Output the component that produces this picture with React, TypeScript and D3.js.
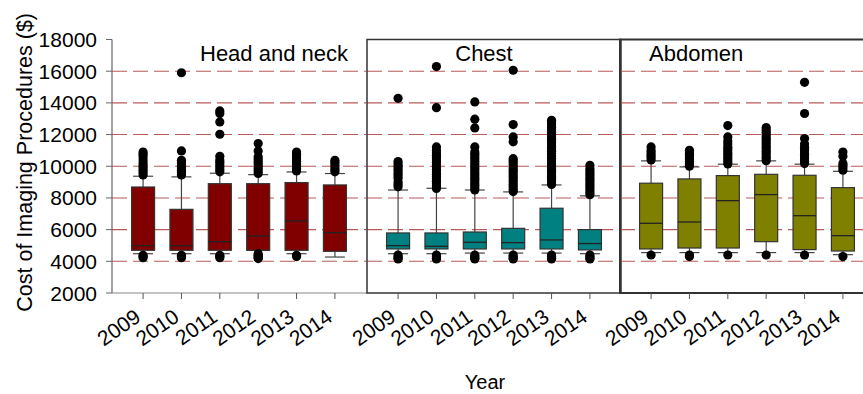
import React from 'react';
import * as d3 from 'd3';

// --- data ---
const years = ['2009', '2010', '2011', '2012', '2013', '2014'];
const panelNames = ['Head and neck', 'Chest', 'Abdomen'];
const panelColors = ['#800000', '#008080', '#808000'];
const yTicks = [2000, 4000, 6000, 8000, 10000, 12000, 14000, 16000, 18000];
const gridValues = [4000, 6000, 8000, 10000, 12000, 14000, 16000];

// Head and neck
const headLo = [4480, 4480, 4480, 4690, 4480, 4270];
const headQ1 = [4695, 4695, 4695, 4695, 4695, 4630];
const headMed = [4990, 4990, 5240, 5600, 6550, 5810];
const headQ3 = [8690, 7280, 8900, 8900, 8970, 8820];
const headHi = [9370, 9330, 9560, 9470, 9640, 9540];
const headOut = [
  [4230, 4300, 4380, 9450, 9600, 9750, 9900, 10050, 10200, 10400, 10600, 10750, 10900],
  [4230, 4300, 4380, 9450, 9600, 9750, 9900, 10050, 10200, 10380, 10970, 15900],
  [4230, 4300, 4380, 9650, 9800, 9950, 10100, 10250, 10400, 10630, 12020, 12800, 13330, 13490],
  [4170, 4230, 4300, 4380, 4480, 9550, 9700, 9850, 10000, 10150, 10300, 10450, 10600, 10970, 11430],
  [4300, 4380, 9700, 9850, 10000, 10150, 10300, 10450, 10600, 10750, 10900],
  [9650, 9800, 9950, 10100, 10250, 10380],
];

// Chest
const chestLo = [4480, 4480, 4520, 4520, 4520, 4480];
const chestQ1 = [4780, 4780, 4780, 4780, 4780, 4720];
const chestMed = [4990, 4950, 5200, 5180, 5350, 5120];
const chestQ3 = [5790, 5790, 5850, 6080, 7350, 6000];
const chestHi = [8500, 8610, 8500, 8380, 8820, 8130];
const chestOut = [
  [4150, 4200, 4300, 4400, 8700, 8850, 9000, 9250, 9400, 9550, 9700, 9850, 10000, 10150, 10300, 14290],
  [4150, 4200, 4300, 4400, 8600, 8750, 8900, 9050, 9200, 9350, 9500, 9650, 9800, 9950, 10100, 10250,
    10400, 10550, 10700, 10850, 11000, 11220, 13700, 16290],
  [4150, 4200, 4300, 4400, 8500, 8650, 8800, 8950, 9100, 9250, 9400, 9550, 9700, 9850, 10000, 10150,
    10300, 10450, 10600, 10750, 10900, 11220, 12420, 12970, 14060],
  [4150, 4200, 4300, 4400, 8400, 8550, 8700, 8850, 9000, 9150, 9300, 9450, 9600, 9750, 9900, 10050,
    10200, 10350, 10480, 11540, 11850, 12630, 16060],
  [4150, 4200, 4300, 4400, 8850, 9000, 9150, 9300, 9450, 9600, 9750, 9900, 10050, 10200, 10350, 10500,
    10650, 10800, 10950, 11100, 11250, 11400, 11550, 11700, 11850, 12000, 12150, 12300, 12450, 12600,
    12750, 12900],
  [4150, 4200, 4300, 4400, 8200, 8350, 8500, 8650, 8800, 8950, 9100, 9250, 9400, 9550, 9700, 9850, 10060],
];

// Abdomen
const abdoLo = [4550, 4550, 4550, 4550, 4550, 4420];
const abdoQ1 = [4780, 4840, 4840, 5240, 4740, 4650];
const abdoMed = [6400, 6480, 7830, 8210, 6880, 5620];
const abdoQ3 = [8930, 9200, 9410, 9490, 9430, 8650];
const abdoHi = [10340, 9960, 10130, 10340, 10130, 9680];
const abdoOut = [
  [4400, 10400, 10550, 10700, 10850, 11000, 11220],
  [4300, 4400, 10000, 10150, 10300, 10450, 10600, 10750, 10900, 11010],
  [4400, 10150, 10300, 10450, 10600, 10750, 10900, 11050, 11200, 11400, 11600, 11850, 12570],
  [4400, 10350, 10500, 10650, 10800, 10950, 11100, 11250, 11400, 11550, 11700, 11850, 12000, 12150, 12300, 12440],
  [4400, 10170, 10300, 10450, 10600, 10750, 10900, 11050, 11200, 11400, 11750, 13330, 15300],
  [4300, 9750, 9900, 10050, 10170, 10630, 10900],
];

const panels = [
  { lo: headLo, q1: headQ1, med: headMed, q3: headQ3, hi: headHi, out: headOut },
  { lo: chestLo, q1: chestQ1, med: chestMed, q3: chestQ3, hi: chestHi, out: chestOut },
  { lo: abdoLo, q1: abdoQ1, med: abdoMed, q3: abdoQ3, hi: abdoHi, out: abdoOut },
];

const font = 'Arial, "Liberation Sans", sans-serif';

export default function App() {
  const width = 863;
  const height = 394;
  const top = 39.5;
  const bottom = 293;
  const panelLeft = [112, 367, 620];
  const panelW = 254;
  const boxW = 23;

  const y = d3.scaleLinear().domain([2000, 18000]).range([bottom, top]);

  const titleX = [200, 484, 649];
  const titleAnchor = ['start', 'middle', 'start'];

  return (
    <svg
      width={width}
      height={height}
      style={{ position: 'absolute', left: 0, top: 0, background: '#fff' }}
      fontFamily={font}
    >
      {/* y axis */}
      <line x1={112} x2={112} y1={top} y2={bottom} stroke="#666" strokeWidth={1.2} />
      {yTicks.map((t) => (
        <g key={t}>
          <line x1={106} x2={112} y1={y(t)} y2={y(t)} stroke="#666" />
          <text x={97} y={y(t) + 7.5} textAnchor="end" fontSize={21} fill="#000">
            {t}
          </text>
        </g>
      ))}
      <text
        transform={`translate(31.5, 13) rotate(-90)`}
        textAnchor="end"
        fontSize={21.5}
        fill="#000"
      >
        Cost of Imaging Procedures ($)
      </text>

      {panels.map((p, pi) => {
        const x0 = panelLeft[pi];
        const x = d3.scalePoint<string>().domain(years).range([x0, x0 + panelW]).padding(0.81);
        return (
          <g key={pi}>
            {/* grid */}
            {gridValues.map((g) => (
              <line
                key={g}
                x1={x0}
                x2={x0 + panelW}
                y1={y(g)}
                y2={y(g)}
                stroke="#b24a47"
                strokeWidth={1.1}
                strokeDasharray="15,6"
                opacity={0.9}
              />
            ))}
            {/* frame */}
            {pi === 0 ? (
              <line x1={x0} x2={x0 + panelW + 1} y1={bottom} y2={bottom} stroke="#888" strokeWidth={1.2} />
            ) : (
              <rect
                x={x0}
                y={top}
                width={panelW}
                height={bottom - top}
                fill="none"
                stroke="#333"
                strokeWidth={pi === 2 ? 2 : 1.5}
              />
            )}
            {years.map((yr, i) => {
              const cx = x(yr)!;
              return (
                <g key={yr}>
                  <line x1={cx} x2={cx} y1={bottom} y2={bottom + 6} stroke="#555" />
                  <text
                    transform={`translate(${cx - 1}, ${bottom + 27}) rotate(-35)`}
                    textAnchor="end"
                    fontSize={21}
                    fill="#000"
                  >
                    {yr}
                  </text>
                  {/* whiskers */}
                  <line x1={cx} x2={cx} y1={y(p.hi[i])} y2={y(p.q3[i])} stroke="#444" strokeWidth={1.2} />
                  <line x1={cx} x2={cx} y1={y(p.q1[i])} y2={y(p.lo[i])} stroke="#444" strokeWidth={1.2} />
                  <line x1={cx - 10} x2={cx + 10} y1={y(p.hi[i])} y2={y(p.hi[i])} stroke="#444" strokeWidth={1.2} />
                  <line x1={cx - 10} x2={cx + 10} y1={y(p.lo[i])} y2={y(p.lo[i])} stroke="#444" strokeWidth={1.2} />
                  {/* box */}
                  <rect
                    x={cx - boxW / 2}
                    y={y(p.q3[i])}
                    width={boxW}
                    height={y(p.q1[i]) - y(p.q3[i])}
                    fill={panelColors[pi]}
                    stroke="#333"
                    strokeWidth={1.2}
                  />
                  <line
                    x1={cx - boxW / 2}
                    x2={cx + boxW / 2}
                    y1={y(p.med[i])}
                    y2={y(p.med[i])}
                    stroke="#222"
                    strokeWidth={1.3}
                  />
                  {/* outliers */}
                  {p.out[i].map((v, k) => (
                    <circle key={k} cx={cx} cy={y(v)} r={4.6} fill="#000" />
                  ))}
                </g>
              );
            })}
            <text
              x={titleX[pi]}
              y={60.5}
              textAnchor={titleAnchor[pi]}
              fontSize={22}
              fill="#000"
            >
              {panelNames[pi]}
            </text>
          </g>
        );
      })}

      <text x={485} y={389} textAnchor="middle" fontSize={20} fill="#000">
        Year
      </text>
    </svg>
  );
}
